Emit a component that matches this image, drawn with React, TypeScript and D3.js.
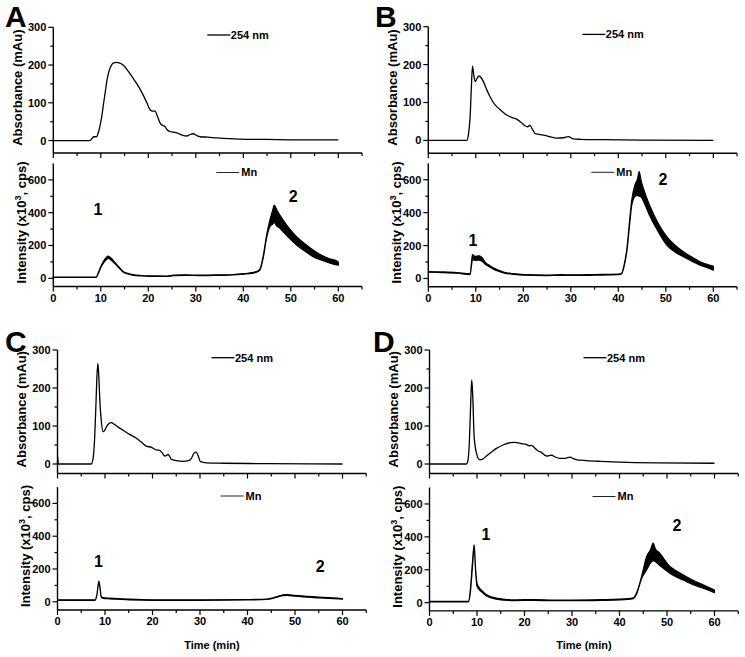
import React from 'react';
import * as d3 from 'd3';

// ---------- ticks ----------
const xTicksMajor = [0, 10, 20, 30, 40, 50, 60];
const xTicksMinor = [5, 15, 25, 35, 45, 55, 65];
const uvTicksMajor = [0, 100, 200, 300];
const uvTicksMinor = [50, 150, 250];
const mnTicksMajor = [0, 200, 400, 600];
const mnTicksMinor = [100, 300, 500];
const panelLetters = ['A', 'B', 'C', 'D'];

// ---------- UV 254 nm traces: [time, absorbance] ----------
const uvA: [number, number][] = [
  [0, 0], [7.7, 0], [8.2, 6], [8.5, 10], [9.1, 10], [9.5, 22], [9.8, 37], [10.2, 63], [10.6, 100], [10.9, 125],
  [11.3, 160], [11.6, 178], [12.1, 196], [12.6, 205], [13.3, 207], [14, 205], [14.7, 200], [15.8, 183], [16.8, 165],
  [17.9, 144], [18.9, 121], [19.7, 100], [20.4, 81], [20.9, 78], [21.4, 78], [22, 62], [22.5, 46], [23, 40], [23.5, 37],
  [24, 28], [24.6, 24], [25.3, 22], [26, 20], [27, 15], [28.1, 12], [28.8, 16], [29.5, 18], [30.2, 13], [30.9, 10],
  [32.5, 9], [34.4, 7], [37, 5], [39.3, 4], [45, 3], [52, 2], [60, 2],
];
const uvB: [number, number][] = [
  [0, 0], [8.1, 0], [8.5, 20], [8.8, 62], [9.1, 150], [9.3, 196], [9.6, 170], [9.9, 155], [10.3, 165], [10.7, 170],
  [11.1, 166], [11.6, 155], [12.3, 134], [13, 115], [13.7, 100], [14.4, 89], [15.5, 77], [16.5, 67], [17.5, 61],
  [18.6, 56], [19.5, 48], [20.4, 38], [20.9, 36], [21.4, 40], [21.9, 30], [22.5, 18], [23.3, 16], [24.2, 14], [25.5, 10],
  [27, 6], [28.5, 7], [29.5, 10], [30.5, 4], [32, 3], [36.8, 2], [45, 1], [60, 0],
];
const uvC: [number, number][] = [
  [0, 0], [0.05, 19], [0.15, 0], [7.1, 0], [7.5, 15], [7.8, 63], [8.1, 160], [8.3, 230], [8.5, 265], [8.7, 230],
  [8.9, 170], [9.2, 116], [9.6, 85], [9.9, 88], [10.3, 98], [10.8, 106], [11.3, 109], [12, 104], [12.8, 97], [13.8, 89],
  [15.2, 78], [16.6, 68], [17.7, 57], [18.7, 47], [19.8, 44], [20.8, 37], [21.5, 36], [22, 30], [22.6, 21], [23.3, 25],
  [23.7, 18], [24, 12], [25, 9], [26.4, 7], [27.6, 9], [28.2, 15], [28.7, 28], [29.2, 31], [29.6, 22], [30.1, 6],
  [31.3, 3], [35, 2], [43.9, 1], [60, 0],
];
const uvD: [number, number][] = [
  [0, 0], [7.8, 0], [8.1, 10], [8.4, 60], [8.7, 170], [8.9, 221], [9.1, 180], [9.4, 72], [9.9, 28], [10.6, 11],
  [11.2, 13], [12, 21], [13, 31], [14.1, 41], [15.5, 50], [17, 56], [18, 57], [19.1, 54], [20.5, 51], [21, 48],
  [21.5, 49], [22, 44], [22.6, 37], [23.1, 33], [23.6, 30], [24.2, 24], [24.7, 21], [25.2, 22], [25.7, 23], [26.5, 18],
  [27.4, 15], [28.5, 15], [29.6, 18], [30.3, 14], [31, 11], [33, 9], [36, 7], [40, 5], [48, 3], [60, 2],
];

// ---------- Mn traces: [time, lower envelope, upper envelope] ----------
const mnA: [number, number, number][] = [
  [0, 5, 7], [9, 5, 7], [9.5, 30, 36], [9.8, 52, 58], [10.5, 90, 100], [11.2, 115, 128], [11.6, 122, 135],
  [12.2, 110, 122], [13, 88, 96], [14, 58, 64], [14.7, 38, 42], [15.7, 26, 30], [16.8, 18, 22], [18.5, 14, 17],
  [20.4, 12, 15], [23.9, 11, 14], [25.3, 16, 19], [28, 18, 21], [30.9, 16, 19], [35, 18, 21], [37.9, 20, 23],
  [40, 25, 28], [42.1, 32, 36], [43, 40, 44], [43.5, 50, 56], [44.2, 125, 138], [44.9, 245, 262], [45.6, 315, 356],
  [46.2, 331, 417], [46.5, 340, 447], [47, 320, 420], [47.7, 305, 386], [48.5, 280, 350], [49.5, 250, 310],
  [51.2, 203, 254], [53, 165, 210], [54.7, 132, 173], [56.5, 110, 140], [58, 95, 120], [59.7, 81, 106], [60, 80, 100],
];
const mnB: [number, number, number][] = [
  [0, 38, 42], [3, 36, 40], [6, 32, 36], [8.8, 24, 28], [9.1, 80, 100], [9.3, 115, 145], [9.8, 110, 135],
  [10.7, 112, 138], [11.3, 105, 128], [12, 86, 98], [13, 68, 78], [14, 52, 60], [15, 42, 48], [16, 33, 38],
  [18, 25, 29], [20, 20, 24], [25, 17, 21], [28, 19, 23], [30, 18, 22], [35, 20, 24], [40, 23, 27], [40.7, 28, 32],
  [41.2, 70, 80], [41.8, 165, 180], [42.5, 360, 390], [42.8, 440, 470], [43.5, 498, 569], [44, 505, 600],
  [44.4, 500, 650], [44.8, 495, 595], [45.6, 450, 520], [46.7, 376, 437], [48.3, 290, 340], [50.2, 203, 254],
  [52, 160, 200], [53.7, 132, 162], [55.5, 105, 130], [57.2, 81, 101], [58.5, 68, 88], [60, 51, 75],
];
const mnC: [number, number, number][] = [
  [0, 9, 12], [7.9, 9, 12], [8.3, 40, 46], [8.7, 118, 126], [9, 70, 78], [9.2, 28, 34], [9.6, 20, 25], [11, 18, 22],
  [15, 12, 16], [20, 9, 12], [30, 9, 12], [40, 11, 14], [44, 14, 17], [46, 26, 30], [47.5, 38, 43], [48.3, 39, 44],
  [50, 34, 39], [55, 24, 29], [60, 16, 20],
];
const mnD: [number, number, number][] = [
  [0, 5, 8], [8.2, 5, 8], [8.6, 60, 80], [9, 200, 230], [9.4, 330, 352], [9.7, 190, 210], [10, 100, 118],
  [10.5, 78, 90], [11, 64, 74], [12, 40, 48], [14, 22, 28], [18, 13, 17], [22, 14, 19], [26, 12, 16], [30, 12, 16],
  [36, 14, 18], [40, 17, 21], [42.9, 25, 29], [43.6, 53, 60], [44.7, 150, 165], [45.7, 199, 280], [46.5, 240, 320],
  [47.1, 255, 362], [47.5, 250, 331], [48.5, 225, 300], [50.6, 179, 220], [52.3, 152, 188], [54.1, 128, 158],
  [55.8, 106, 132], [57.6, 88, 108], [60, 61, 77],
];

// ---------- peak annotations [time, intensity] ----------
const peaksA: [string, number, number][] = [['1', 9.4, 423], ['2', 50.5, 502]];
const peaksB: [string, number, number][] = [['1', 9.4, 234], ['2', 49.4, 606]];
const peaksC: [string, number, number][] = [['1', 8.6, 248], ['2', 55.3, 218]];
const peaksD: [string, number, number][] = [['1', 11.9, 413], ['2', 52.1, 468]];

// ---------- layout (pixels) ----------
interface Layout {
  left: number; topTop: number; topBottom: number; topMin: number;
  botTop: number; botBottom: number; letterX: number; letterY: number; xTitle: boolean;
}
const layouts: Layout[] = [
  { left: 53.3, topTop: 27.3, topBottom: 153, topMin: -33, botTop: 163.5, botBottom: 286.5, letterX: 5, letterY: 26.7, xTitle: false },
  { left: 428.3, topTop: 26.7, topBottom: 153.3, topMin: -34, botTop: 163.3, botBottom: 286.7, letterX: 375, letterY: 26.7, xTitle: false },
  { left: 57.5, topTop: 350, topBottom: 473.5, topMin: -25, botTop: 487, botBottom: 610, letterX: 5, letterY: 352, xTitle: true },
  { left: 429.5, topTop: 350, topBottom: 473.5, topMin: -25, botTop: 487.5, botBottom: 610.9, letterX: 373, letterY: 352, xTitle: true },
];
const PX_PER_MIN = 4.75;
const FONT = '"Liberation Sans", Arial, Helvetica, sans-serif';

function Panel(props: {
  lay: Layout; uv: [number, number][]; mn: [number, number, number][];
  peaks: [string, number, number][]; letter: string;
}) {
  const { lay, uv, mn, peaks, letter } = props;
  const x = d3.scaleLinear().domain([0, 65]).range([lay.left, lay.left + 65 * PX_PER_MIN]);
  const yU = d3.scaleLinear().domain([lay.topMin, 300]).range([lay.topBottom, lay.topTop]);
  const yM = d3.scaleLinear().domain([-50, 700]).range([lay.botBottom, lay.botTop]);
  const line = d3.line<[number, number]>().x(d => x(d[0])).y(d => yU(d[1])).curve(d3.curveMonotoneX);
  const area = d3.area<[number, number, number]>()
    .x(d => x(d[0])).y0(d => yM(d[1])).y1(d => yM(d[2])).curve(d3.curveMonotoneX);
  const x0 = x(0), x1 = x(65);
  const axisW = 1.4;

  const xAxis = (yPos: number, labels: boolean) => (
    <g>
      <line x1={x0} x2={x1} y1={yPos} y2={yPos} stroke="#000" strokeWidth={axisW} />
      {xTicksMajor.map(t => (
        <g key={'M' + t}>
          <line x1={x(t)} x2={x(t)} y1={yPos} y2={yPos + 5} stroke="#000" strokeWidth={1.2} />
          {labels && (
            <text x={x(t)} y={yPos + 15} textAnchor="middle" fontSize={11} fontWeight="bold" fontFamily={FONT}>{t}</text>
          )}
        </g>
      ))}
      {xTicksMinor.map(t => (
        <line key={'m' + t} x1={x(t)} x2={x(t)} y1={yPos} y2={yPos + 3} stroke="#000" strokeWidth={1.2} />
      ))}
    </g>
  );

  const yAxis = (scale: d3.ScaleLinear<number, number>, major: number[], minor: number[], yTop: number, yBot: number) => (
    <g>
      <line x1={x0} x2={x0} y1={yTop} y2={yBot} stroke="#000" strokeWidth={axisW} />
      {major.map(v => (
        <g key={'M' + v}>
          <line x1={x0 - 5} x2={x0} y1={scale(v)} y2={scale(v)} stroke="#000" strokeWidth={1.2} />
          <text x={x0 - 7} y={scale(v)} dy="0.36em" textAnchor="end" fontSize={11} fontWeight="bold" fontFamily={FONT}>{v}</text>
        </g>
      ))}
      {minor.map(v => (
        <line key={'m' + v} x1={x0 - 3} x2={x0} y1={scale(v)} y2={scale(v)} stroke="#000" strokeWidth={1.2} />
      ))}
    </g>
  );

  const topMid = (lay.topTop + lay.topBottom) / 2 - 2.5;
  const botMid = (lay.botTop + lay.botBottom) / 2 - 2.5;

  return (
    <g>
      <text x={lay.letterX} y={lay.letterY} fontSize={30} fontWeight="bold" fontFamily={FONT}>{letter}</text>
      {/* top UV plot */}
      {yAxis(yU, uvTicksMajor, uvTicksMinor, lay.topTop, lay.topBottom)}
      {xAxis(lay.topBottom, false)}
      <path d={line(uv) || ''} fill="none" stroke="#000" strokeWidth={1.3} strokeLinejoin="round" />
      <text transform={`translate(${x0 - 31.5},${topMid}) rotate(-90)`} textAnchor="middle" fontSize={13} fontWeight="bold" fontFamily={FONT}>Absorbance (mAu)</text>
      <line x1={lay.left + 154} x2={lay.left + 177} y1={lay.topTop + 7.7} y2={lay.topTop + 7.7} stroke="#000" strokeWidth={1.3} />
      <text x={lay.left + 177.5} y={lay.topTop + 7.7} dy="0.36em" fontSize={11} fontWeight="bold" fontFamily={FONT}>254 nm</text>

      {/* bottom Mn plot */}
      {yAxis(yM, mnTicksMajor, mnTicksMinor, lay.botTop, lay.botBottom)}
      {xAxis(lay.botBottom, true)}
      <path d={area(mn) || ''} fill="#000" stroke="#000" strokeWidth={1.2} strokeLinejoin="round" />
      <text transform={`translate(${x0 - 27.5},${botMid}) rotate(-90)`} textAnchor="middle" fontSize={13} fontWeight="bold" fontFamily={FONT}>
        Intensity (x10<tspan dy="-5" fontSize={9}>3</tspan><tspan dy="5">, cps)</tspan>
      </text>
      <line x1={lay.left + 163} x2={lay.left + 186} y1={lay.botTop + 9} y2={lay.botTop + 9} stroke="#222" strokeWidth={1} />
      <text x={lay.left + 188} y={lay.botTop + 9} dy="0.36em" fontSize={11} fontWeight="bold" fontFamily={FONT}>Mn</text>
      {peaks.map(p => (
        <text key={p[0]} x={x(p[1])} y={yM(p[2])} dy="0.36em" textAnchor="middle" fontSize={16} fontWeight="bold" fontFamily={FONT}>{p[0]}</text>
      ))}
      {lay.xTitle && (
        <text x={(x0 + x1) / 2} y={lay.botBottom + 38.5} textAnchor="middle" fontSize={11} fontWeight="bold" fontFamily={FONT}>Time (min)</text>
      )}
    </g>
  );
}

export default function App() {
  const uvs = [uvA, uvB, uvC, uvD];
  const mns = [mnA, mnB, mnC, mnD];
  const peaks = [peaksA, peaksB, peaksC, peaksD];
  return (
    <svg width={745} height={657} viewBox="0 0 745 657"
      style={{ position: 'absolute', left: 0, top: 0, background: '#fff' }}>
      <rect width={745} height={657} fill="#fff" />
      {layouts.map((lay, i) => (
        <Panel key={i} lay={lay} uv={uvs[i]} mn={mns[i]} peaks={peaks[i]} letter={panelLetters[i]} />
      ))}
    </svg>
  );
}
